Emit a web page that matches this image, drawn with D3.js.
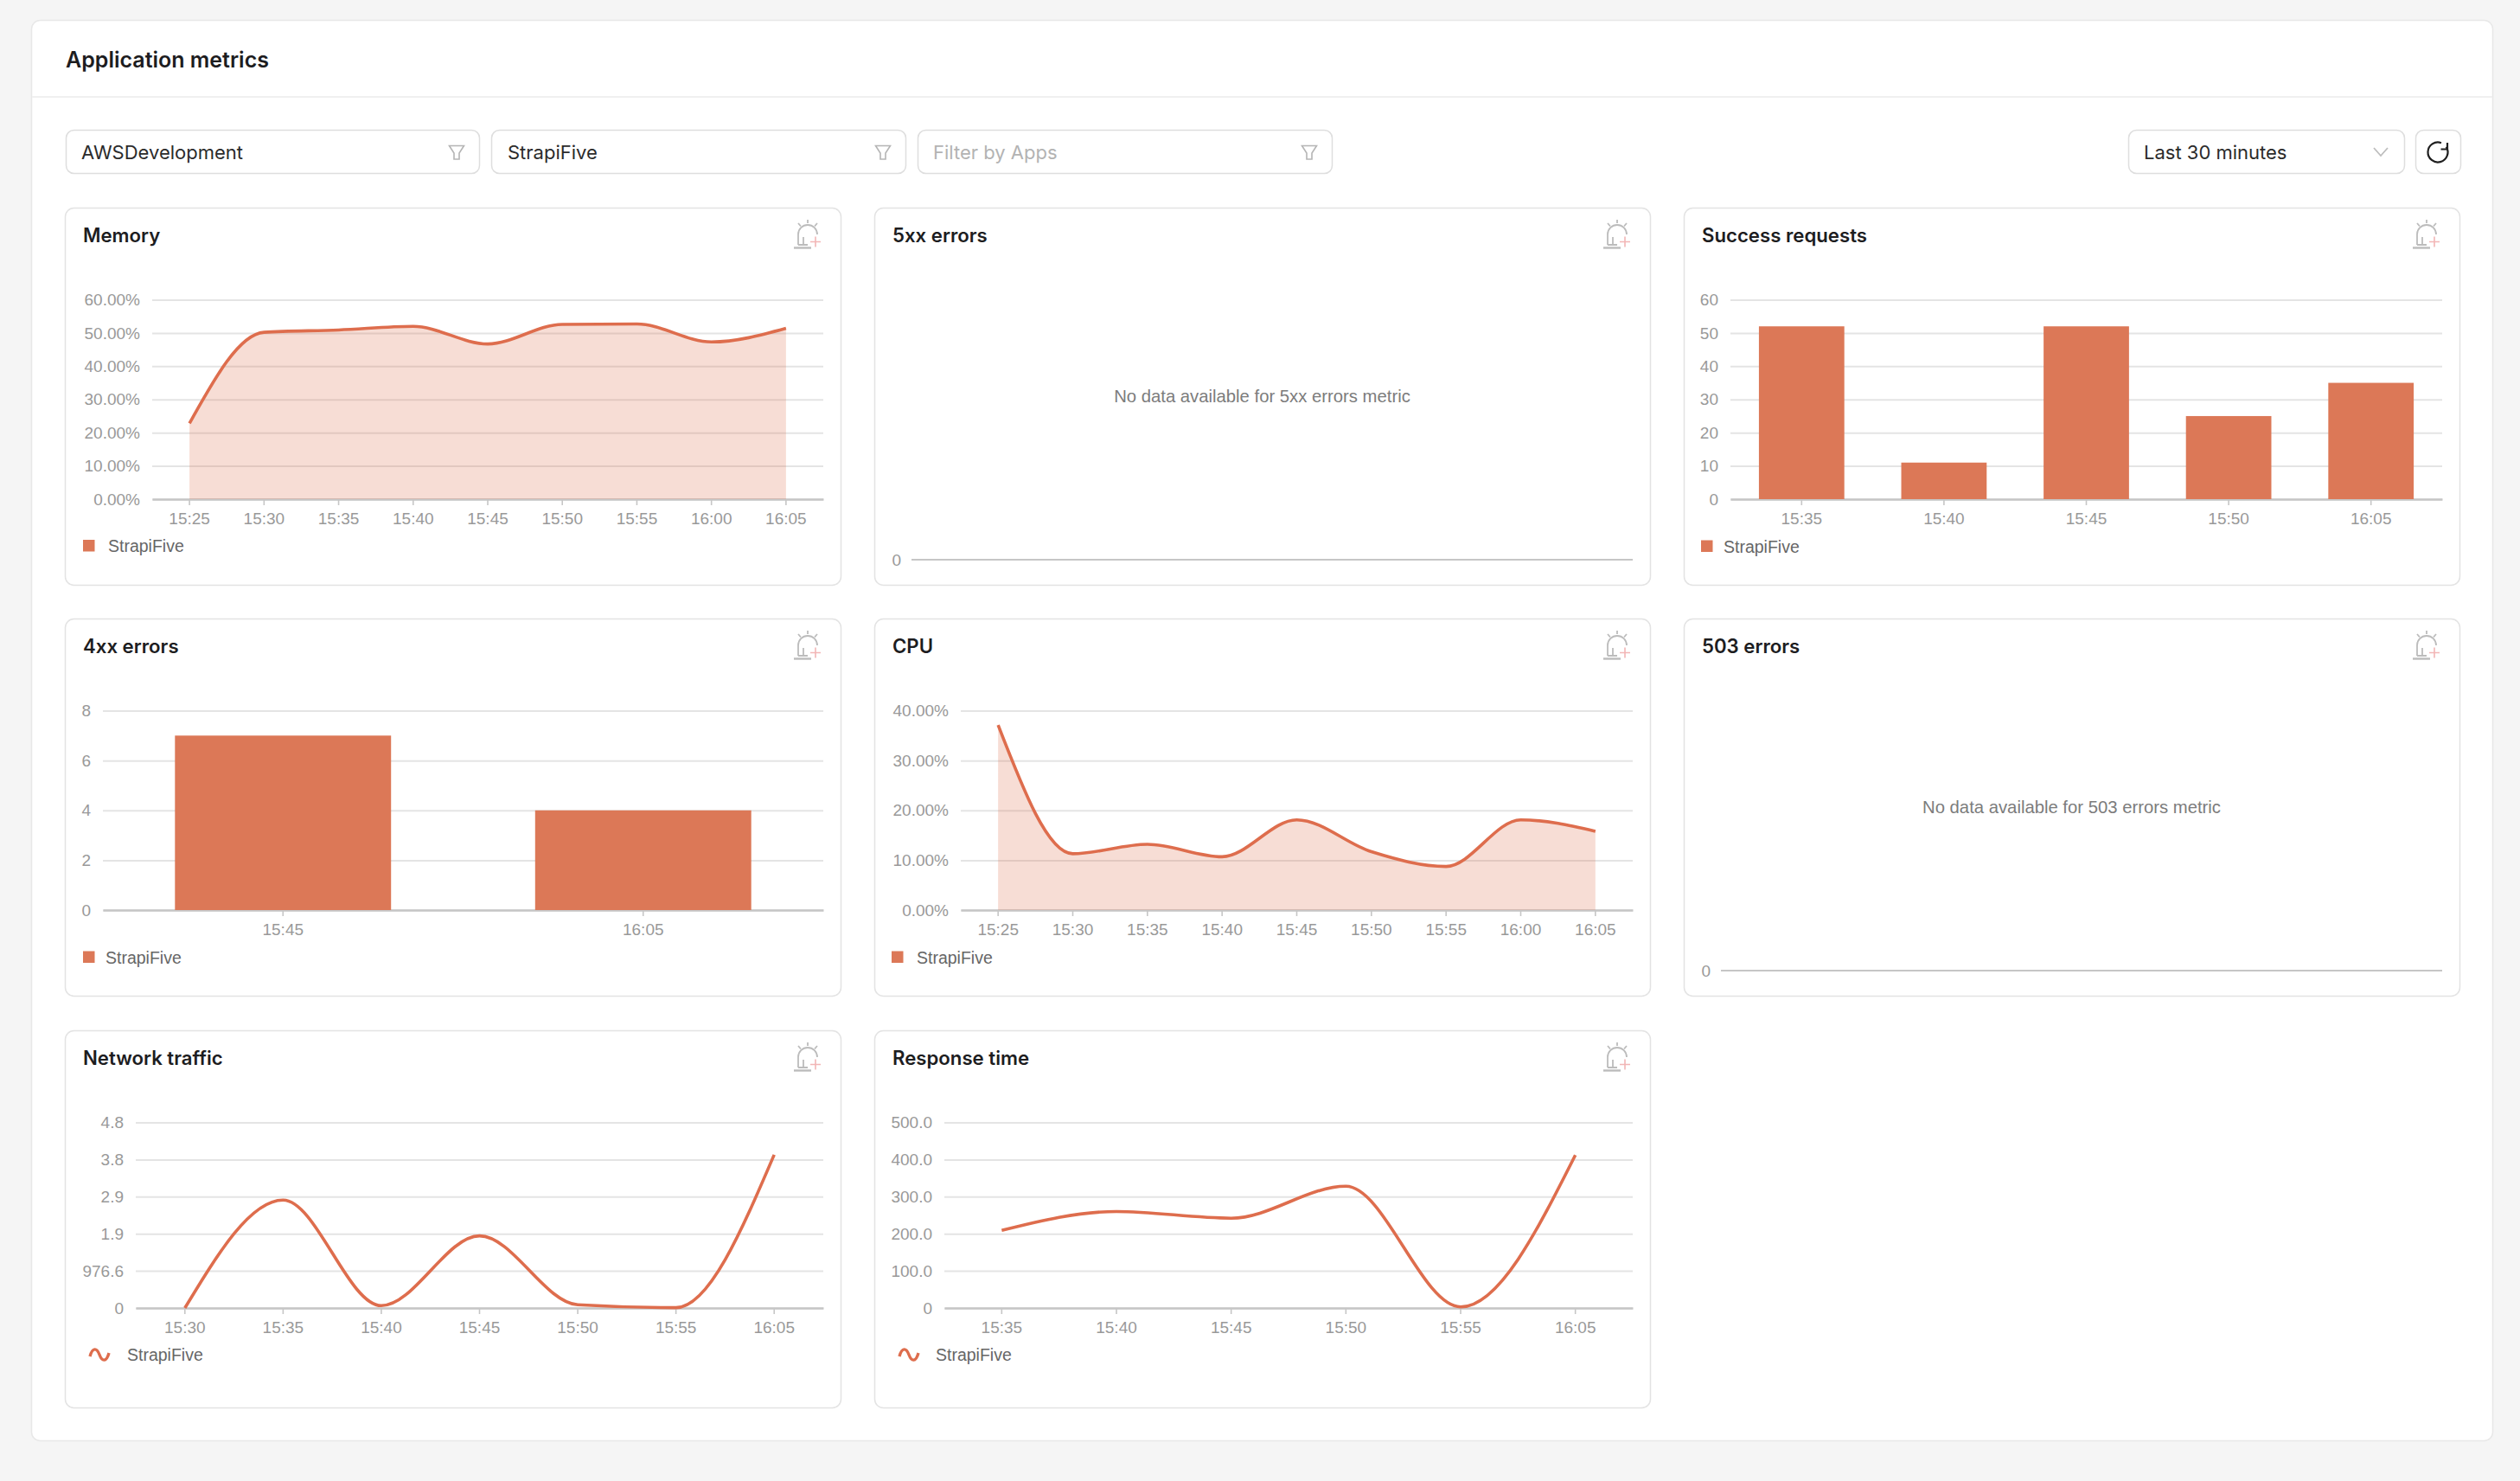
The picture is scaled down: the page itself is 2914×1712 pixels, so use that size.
<!DOCTYPE html>
<html>
<head>
<meta charset="utf-8">
<title>Application metrics</title>
<script src="https://cdn.jsdelivr.net/npm/d3@7/dist/d3.min.js"></script>
<style>
  html, body { margin: 0; padding: 0; background: #f5f5f5; }
  svg { display: block; }
  text { font-family: Inter, "Noto Sans", sans-serif; }
  .chart-text { font-family: "Liberation Sans", Arial, sans-serif; }
</style>
</head>
<body>
<div id="root"></div>
<script>
// Series readings for each dashboard panel
const seriesName = "StrapiFive";

const memoryTimes = ["15:25","15:30","15:35","15:40","15:45","15:50","15:55","16:00","16:05"];
const memoryValues = [22.8, 50.2, 50.9, 52.0, 46.7, 52.6, 52.7, 47.3, 51.4];
const memoryTicks = [0, 10, 20, 30, 40, 50, 60];
const memoryTickLabels = ["0.00%","10.00%","20.00%","30.00%","40.00%","50.00%","60.00%"];

const successTimes = ["15:35","15:40","15:45","15:50","16:05"];
const successValues = [52, 11, 52, 25, 35];
const successTicks = [0, 10, 20, 30, 40, 50, 60];
const successTickLabels = ["0","10","20","30","40","50","60"];

const clientErrorTimes = ["15:45","16:05"];
const clientErrorValues = [7, 4];
const clientErrorTicks = [0, 2, 4, 6, 8];
const clientErrorTickLabels = ["0","2","4","6","8"];

const cpuTimes = ["15:25","15:30","15:35","15:40","15:45","15:50","15:55","16:00","16:05"];
const cpuValues = [37.1, 11.3, 13.2, 10.7, 18.1, 11.7, 8.75, 18.1, 15.8];
const cpuTicks = [0, 10, 20, 30, 40];
const cpuTickLabels = ["0.00%","10.00%","20.00%","30.00%","40.00%"];

const networkTimes = ["15:30","15:35","15:40","15:45","15:50","15:55","16:05"];
const networkValues = [0, 2840, 61, 1898, 84, 8, 4032];
const networkTicks = [0, 976.6, 1953.1, 2929.7, 3906.2, 4882.8];
const networkTickLabels = ["0","976.6","1.9","2.9","3.8","4.8"];

const responseTimes = ["15:35","15:40","15:45","15:50","15:55","16:05"];
const responseValues = [209, 260, 242, 328, 3, 412];
const responseTicks = [0, 100, 200, 300, 400, 500];
const responseTickLabels = ["0","100.0","200.0","300.0","400.0","500.0"];

const filterLabels = ["AWSDevelopment", "StrapiFive", "Filter by Apps"];
const rangeLabel = "Last 30 minutes";

// Palette
const LINE = "#de6d4d", BAR = "#dc7857", AREA = "rgba(222,112,80,0.24)";
const GRID = "#e4e4e4", AXIS = "#c6c6c6", TICK_TEXT = "#999";
const BORDER = "#e3e3e3", TITLE = "#1d1d1f";
const TICK_SIZE = 19, LEGEND_SIZE = 19.5;

const svg = d3.select("#root").append("svg").attr("width", 2914).attr("height", 1712);
svg.append("rect").attr("width", 2914).attr("height", 1712).attr("fill", "#f5f5f5");

// Page shell
svg.append("rect").attr("x", 36.5).attr("y", 23.5).attr("width", 2846).attr("height", 1642).attr("rx", 10)
  .attr("fill", "#fff").attr("stroke", "#e8e8e8").attr("stroke-width", 1.5);
svg.append("line").attr("x1", 37).attr("x2", 2882).attr("y1", 112).attr("y2", 112)
  .attr("stroke", "#f0f0f0").attr("stroke-width", 2);
svg.append("text").attr("x", 76).attr("y", 69).attr("dy", "0.36em")
  .attr("font-size", 25).attr("font-weight", 600).attr("fill", TITLE).text("Application metrics");

function box(x, y, w, h) {
  svg.append("rect").attr("x", x + .5).attr("y", y + .5).attr("width", w).attr("height", h).attr("rx", 9)
    .attr("fill", "#fff").attr("stroke", "#dedede").attr("stroke-width", 1.5);
}

function funnel(cx, cy) {
  svg.append("path")
    .attr("d", `M${cx-8.5},${cy-7.5}H${cx+8.5}L${cx+3},${cy+1}V${cy+8}H${cx-3}V${cy+1}Z`)
    .attr("fill", "none").attr("stroke", "#b5b5b5").attr("stroke-width", 1.6);
}

// Filter row
[[76, 478, 94], [568, 479, 587], [1061, 479, 1079]].forEach(([x, w, tx], i) => {
  box(x, 150, w, 50);
  svg.append("text").attr("x", tx).attr("y", 176.5).attr("dy", "0.36em").attr("font-size", 22)
    .attr("fill", i === 2 ? "#b3b3b3" : "#2b2b2b").text(filterLabels[i]);
  funnel(x + w - 26, 176);
});

box(2461, 150, 319, 50);
svg.append("text").attr("x", 2479).attr("y", 176.5).attr("dy", "0.36em").attr("font-size", 22)
  .attr("fill", "#2b2b2b").text(rangeLabel);
svg.append("path").attr("d", "M2745,171L2753,180L2761,171").attr("fill", "none")
  .attr("stroke", "#bdbdbd").attr("stroke-width", 1.8);

box(2793, 150, 52, 50);
svg.append("path").attr("d", d3.arc()({ innerRadius: 11.5, outerRadius: 11.5, startAngle: 1.0, endAngle: 2 * Math.PI + 0.35 }))
  .attr("transform", "translate(2819,176)").attr("fill", "none").attr("stroke", "#1f1f1f").attr("stroke-width", 2.2);
svg.append("path").attr("d", "M2830,165V172.5H2822.5").attr("fill", "none")
  .attr("stroke", "#1f1f1f").attr("stroke-width", 2.2);

// Alarm glyph in the top right corner of a panel
function alarmIcon(g, right, top) {
  const ox = right - 54, oy = top + 14;
  const grey = g.append("g").attr("fill", "none").attr("stroke", "#bcbcbc").attr("stroke-width", 1.8);
  grey.append("path").attr("d", `M${ox},${oy+32.5}H${ox+20}`).attr("stroke-width", 2.4);
  grey.append("path").attr("d", `M${ox+5},${oy+29}V${oy+17}A11,11 0 0 1 ${ox+27},${oy+17}`);
  grey.append("path").attr("d", `M${ox+11},${oy+29}V${oy+20}M${ox+5},${oy+29}H${ox+16}`);
  grey.append("path").attr("d", `M${ox+16},${oy}V${oy+4}M${ox+5},${oy+4}L${ox+8},${oy+7.5}M${ox+27},${oy+4}L${ox+24},${oy+7.5}`);
  g.append("path").attr("d", `M${ox+19},${oy+25.5}H${ox+31}M${ox+25},${oy+19.5}V${oy+31.5}`)
    .attr("fill", "none").attr("stroke", "#f2b6b6").attr("stroke-width", 1.6);
}

function panelFrame(p) {
  const g = svg.append("g");
  g.append("rect").attr("x", p.x + .5).attr("y", p.y + .5).attr("width", p.w).attr("height", p.h).attr("rx", 10)
    .attr("fill", "#fff").attr("stroke", BORDER).attr("stroke-width", 1.5);
  g.append("text").attr("x", p.x + 21).attr("y", p.y + 32).attr("dy", "0.36em")
    .attr("font-size", 22.2).attr("font-weight", 600).attr("fill", TITLE).text(p.title);
  alarmIcon(g, p.x + p.w, p.y);
  return g;
}

// Value and time axes shared by the chart panels
function axes(g, x, y, ticks, labels) {
  const left = x.range()[0], right = x.range()[1];
  const gy = g.append("g").attr("transform", `translate(${left},0)`)
    .call(d3.axisLeft(y).tickValues(ticks).tickSize(0).tickPadding(14)
      .tickFormat((d, i) => labels[i]));
  gy.select(".domain").remove();
  gy.selectAll("line").attr("x2", right - left).attr("stroke", GRID).attr("stroke-width", 2);
  gy.selectAll("text").attr("class", "chart-text").attr("fill", TICK_TEXT).attr("font-size", TICK_SIZE);

  const gx = g.append("g").attr("transform", `translate(0,${y.range()[0]})`)
    .call(d3.axisBottom(x).tickSize(7).tickSizeOuter(0).tickPadding(8.5));
  gx.select(".domain").attr("stroke", AXIS).attr("stroke-width", 2.4);
  gx.selectAll("line").attr("stroke", AXIS).attr("stroke-width", 1.6);
  gx.selectAll("text").attr("class", "chart-text").attr("fill", TICK_TEXT).attr("font-size", TICK_SIZE);
  g.selectAll("g").attr("font-family", null);
}

function legendLabel(g, x, y) {
  g.append("text").attr("class", "chart-text").attr("x", x).attr("y", y).attr("dy", "0.36em")
    .attr("font-size", LEGEND_SIZE).attr("fill", "#666").text(seriesName);
}

function legendSwatch(g, p) {
  g.append("rect").attr("x", p.legendX).attr("y", p.legendY - 7).attr("width", 13.5).attr("height", 13.5).attr("fill", BAR);
  legendLabel(g, p.legendX + p.legendGap, p.legendY);
}

function legendWave(g, p) {
  const a = p.legendX, c = p.legendY;
  g.append("path")
    .attr("d", `M${a},${c+2}C${a+3},${c-9} ${a+8},${c-8} ${a+11},${c}S${a+19},${c+9} ${a+22},${c-2}`)
    .attr("fill", "none").attr("stroke", LINE).attr("stroke-width", 3.4);
  legendLabel(g, a + p.legendGap, c);
}

function linePanel(p) {
  const g = panelFrame(p);
  const x = d3.scaleBand().domain(p.times).range([p.plotL, p.plotR]);
  const y = d3.scaleLinear().domain(p.domain).range([p.plotB, p.plotT]);
  axes(g, x, y, p.ticks, p.tickLabels);
  const px = (d, i) => x(p.times[i]) + x.bandwidth() / 2;
  if (p.area) {
    g.append("path").datum(p.values)
      .attr("d", d3.area().x(px).y0(y(0)).y1(d => y(d)).curve(d3.curveMonotoneX))
      .attr("fill", AREA);
  }
  g.append("path").datum(p.values)
    .attr("d", d3.line().x(px).y(d => y(d)).curve(d3.curveMonotoneX))
    .attr("fill", "none").attr("stroke", LINE).attr("stroke-width", 3.6);
  (p.area ? legendSwatch : legendWave)(g, p);
}

function barPanel(p) {
  const g = panelFrame(p);
  const x = d3.scaleBand().domain(p.times).range([p.plotL, p.plotR]).paddingInner(0).paddingOuter(0);
  const y = d3.scaleLinear().domain(p.domain).range([p.plotB, p.plotT]);
  axes(g, x, y, p.ticks, p.tickLabels);
  const barW = x.bandwidth() * 0.6;
  g.selectAll("rect.bar").data(p.values).join("rect").attr("class", "bar")
    .attr("x", (d, i) => x(p.times[i]) + (x.bandwidth() - barW) / 2)
    .attr("width", barW)
    .attr("y", d => y(d))
    .attr("height", d => y(0) - y(d))
    .attr("fill", BAR);
  legendSwatch(g, p);
}

function emptyPanel(p) {
  const g = panelFrame(p);
  g.append("text").attr("class", "chart-text").attr("x", p.x + p.w / 2).attr("y", p.y + 218).attr("dy", "0.36em")
    .attr("text-anchor", "middle").attr("font-size", 20.3).attr("fill", "#7c7c7c").text(p.message);
  const y = d3.scaleLinear().domain([0, 1]).range([p.plotB, p.plotB - 100]);
  const gy = g.append("g").attr("transform", `translate(${p.plotL},0)`)
    .call(d3.axisLeft(y).tickValues([0]).tickSize(0).tickPadding(12).tickFormat(() => "0"));
  gy.select(".domain").remove();
  gy.selectAll("text").attr("class", "chart-text").attr("fill", TICK_TEXT).attr("font-size", TICK_SIZE);
  g.selectAll("g").attr("font-family", null);
  g.append("line").attr("x1", p.plotL).attr("x2", p.plotR).attr("y1", p.plotB).attr("y2", p.plotB)
    .attr("stroke", AXIS).attr("stroke-width", 2);
}

const colX = [75, 1011, 1947], rowY = [240, 715, 1191], cardW = 897, cardH = 436;

linePanel({ x: colX[0], y: rowY[0], w: cardW, h: cardH, title: "Memory", times: memoryTimes, values: memoryValues,
  domain: [0, 60], ticks: memoryTicks, tickLabels: memoryTickLabels, area: true,
  plotL: 176, plotR: 952, plotT: 346.5, plotB: 577, legendX: 96, legendY: 631, legendGap: 29 });

emptyPanel({ x: colX[1], y: rowY[0], w: cardW, h: cardH, title: "5xx errors",
  message: "No data available for 5xx errors metric", plotL: 1054, plotR: 1888, plotB: 647 });

barPanel({ x: colX[2], y: rowY[0], w: cardW, h: cardH, title: "Success requests", times: successTimes, values: successValues,
  domain: [0, 60], ticks: successTicks, tickLabels: successTickLabels,
  plotL: 2001, plotR: 2824, plotT: 346.5, plotB: 577, legendX: 1967, legendY: 631.5, legendGap: 26 });

barPanel({ x: colX[0], y: rowY[1], w: cardW, h: cardH, title: "4xx errors", times: clientErrorTimes, values: clientErrorValues,
  domain: [0, 8], ticks: clientErrorTicks, tickLabels: clientErrorTickLabels,
  plotL: 119, plotR: 952, plotT: 821.5, plotB: 1052, legendX: 96, legendY: 1106.5, legendGap: 26 });

linePanel({ x: colX[1], y: rowY[1], w: cardW, h: cardH, title: "CPU", times: cpuTimes, values: cpuValues,
  domain: [0, 40], ticks: cpuTicks, tickLabels: cpuTickLabels, area: true,
  plotL: 1111, plotR: 1888, plotT: 821.5, plotB: 1052, legendX: 1031, legendY: 1106.5, legendGap: 29 });

emptyPanel({ x: colX[2], y: rowY[1], w: cardW, h: cardH, title: "503 errors",
  message: "No data available for 503 errors metric", plotL: 1990, plotR: 2824, plotB: 1122 });

linePanel({ x: colX[0], y: rowY[2], w: cardW, h: cardH, title: "Network traffic", times: networkTimes, values: networkValues,
  domain: [0, 4882.8], ticks: networkTicks, tickLabels: networkTickLabels,
  plotL: 157, plotR: 952, plotT: 1297.5, plotB: 1512, legendX: 104, legendY: 1566, legendGap: 43 });

linePanel({ x: colX[1], y: rowY[2], w: cardW, h: cardH, title: "Response time", times: responseTimes, values: responseValues,
  domain: [0, 500], ticks: responseTicks, tickLabels: responseTickLabels,
  plotL: 1092, plotR: 1888, plotT: 1297.5, plotB: 1512, legendX: 1040, legendY: 1566, legendGap: 42 });
</script>
</body>
</html>
